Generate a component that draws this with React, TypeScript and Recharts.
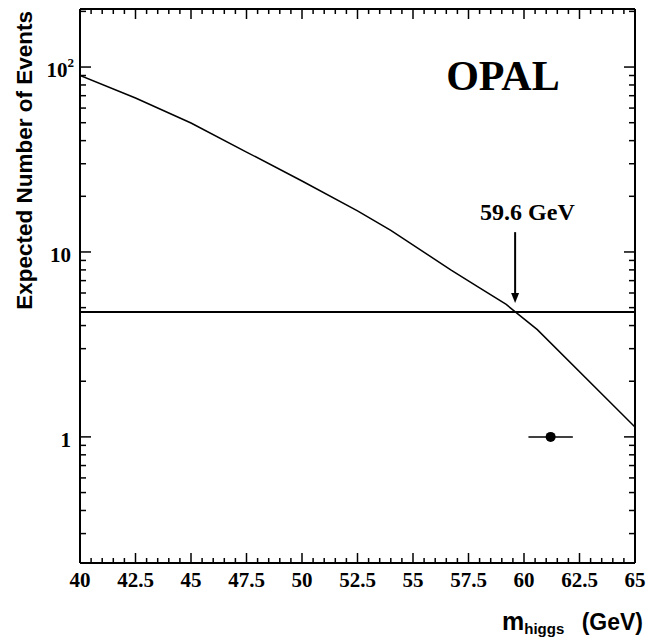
import {
  ComposedChart,
  ErrorBar,
  Label,
  Line,
  ReferenceDot,
  ReferenceLine,
  Scatter,
  XAxis,
  YAxis,
} from "recharts"

// Expected signal events vs. Higgs mass, with the 95% CL line and the observed candidate.
const MASS = [40, 42.5, 45, 47.5, 50, 52.5, 54, 56.7, 58, 59.2, 60.6, 65]
const EXPECTED = [90, 68, 49.8, 34.7, 24.2, 16.7, 13.1, 8.0, 6.4, 5.2, 3.8, 1.13]

const LIMIT_EVENTS = 4.74
const LIMIT_MASS = 59.6
const LIMIT_LABEL = "59.6 GeV"
const ARROW_TOP = 12.8
const ARROW_TIP = 5.3

const OBS_MASS = [61.2]
const OBS_EVENTS = [1]
const OBS_MASS_ERR = [1.0]

const OPAL_POS = { x: 59.05, y: 75 }

const X_MIN = 40
const X_MAX = 65
const X_MAJOR = [40, 42.5, 45, 47.5, 50, 52.5, 55, 57.5, 60, 62.5, 65]
const X_LABELS = ["40", "42.5", "45", "47.5", "50", "52.5", "55", "57.5", "60", "62.5", "65"]
const Y_MAJOR = [1, 10, 100]
const Y_LABELS = ["1", "10", "10^2"]
const Y_MINOR = [0.3, 0.4, 0.5, 0.6, 0.7, 0.8, 0.9, 2, 3, 4, 5, 6, 7, 8, 9, 20, 30, 40, 50, 60, 70, 80, 90, 200]

// minor x ticks every 0.5 between the labelled ones
const X_TICKS: number[] = []
for (let i = 0; i < X_MAJOR.length; i++) {
  X_TICKS.push(X_MAJOR[i])
  if (i < X_MAJOR.length - 1) {
    for (let k = 1; k < 5; k++) X_TICKS.push(X_MAJOR[i] + k * 0.5)
  }
}
const Y_TICKS = [...Y_MINOR, ...Y_MAJOR].sort((a, b) => a - b)

const curve = MASS.map((m, i) => ({ x: m, y: EXPECTED[i] }))
const observed = OBS_MASS.map((m, i) => ({ x: m, y: OBS_EVENTS[i], ex: OBS_MASS_ERR[i] }))

const W = 650
const H = 638
const PLOT_W = 555 // frame width in px, used to turn tick lengths into mass units
const SERIF = "Liberation Serif"
const SANS = "Liberation Sans"
const Y_DOMAIN = [0.208, 206]

const isMajorX = (v: number) => X_MAJOR.some((m) => Math.abs(m - v) < 1e-6)
const isMajorY = (v: number) => Y_MAJOR.some((m) => Math.abs(m - v) < 1e-9)
const tickDx = (px: number) => ((X_MAX - X_MIN) * px) / PLOT_W

function BottomTick(props: any) {
  const { x, y, payload } = props
  const v = payload.value as number
  const major = isMajorX(v)
  const idx = X_MAJOR.findIndex((m) => Math.abs(m - v) < 1e-6)
  return (
    <g>
      <line x1={x} x2={x} y1={y} y2={y - (major ? 10 : 5)} stroke="#000" strokeWidth={1.5} />
      {major && (
        <text x={x} y={y + 24} textAnchor="middle" fontFamily={SERIF} fontWeight="bold" fontSize={21} fill="#000">
          {X_LABELS[idx]}
        </text>
      )}
    </g>
  )
}

function TopTick(props: any) {
  const { x, y, payload } = props
  const major = isMajorX(payload.value)
  return <line x1={x} x2={x} y1={y} y2={y + (major ? 10 : 5)} stroke="#000" strokeWidth={1.5} />
}

function LeftLabel(props: any) {
  const x = Number(props.x)
  const y = Number(props.y)
  const idx = Y_MAJOR.findIndex((m) => Math.abs(m - props.payload.value) < 1e-9)
  if (idx < 0) return <g />
  const [base, exp] = Y_LABELS[idx].split("^")
  return (
    <text
      x={exp ? x - 6 : x - 9}
      y={y + 10}
      textAnchor="end"
      fontFamily={SERIF}
      fontWeight="bold"
      fontSize={21}
      fill="#000"
    >
      {base}
      {exp && (
        <tspan fontSize={13} dy={-10}>
          {exp}
        </tspan>
      )}
    </text>
  )
}

function RightTick(props: any) {
  const x = Number(props.x)
  const y = Number(props.y)
  const len = isMajorY(props.payload.value) ? 11 : 6
  return <line x1={x} x2={x - len} y1={y} y2={y} stroke="#000" strokeWidth={1.5} />
}

// vertical arrow from the mass label down to the limit line
function LimitArrow({ x1, y1, x2, y2 }: any) {
  return (
    <g>
      <line x1={x1} y1={y1} x2={x2} y2={y2 - 9} stroke="#000" strokeWidth={2} />
      <polygon points={`${x2 - 4},${y2 - 10} ${x2 + 4},${y2 - 10} ${x2},${y2}`} fill="#000" />
      <text x={x1 - 35} y={y1 - 12} fontFamily={SERIF} fontWeight="bold" fontSize={24} fill="#000">
        {LIMIT_LABEL}
      </text>
    </g>
  )
}

export default function App() {
  return (
    <div style={{ width: W, height: H, background: "#fff" }}>
      <style>{"body{margin:0}"}</style>
      {/* top/right axes are 1px thick so they still render; they only carry mirrored ticks */}
      <ComposedChart width={W} height={H} margin={{ top: 8, right: 14, bottom: 0, left: 0 }}>
        <XAxis
          xAxisId={0}
          dataKey="x"
          type="number"
          domain={[X_MIN, X_MAX]}
          allowDataOverflow
          ticks={X_TICKS}
          interval={0}
          tickSize={0}
          tickMargin={0}
          tickLine={false}
          tick={<BottomTick />}
          height={75}
          axisLine={{ stroke: "#000", strokeWidth: 2 }}
        >
          <Label
            content={() => (
              <g fontFamily={SANS} fontWeight="bold" fill="#000">
                <text x={502} y={630} fontSize={25}>
                  m
                  <tspan fontSize={15} dy={4}>
                    higgs
                  </tspan>
                </text>
                <text x={643} y={630} fontSize={23} textAnchor="end">
                  (GeV)
                </text>
              </g>
            )}
          />
        </XAxis>
        <XAxis
          xAxisId="top"
          orientation="top"
          dataKey="x"
          type="number"
          domain={[X_MIN, X_MAX]}
          allowDataOverflow
          ticks={X_TICKS}
          interval={0}
          tickSize={0}
          tickMargin={0}
          tickLine={false}
          tick={<TopTick />}
          height={1}
          axisLine={{ stroke: "#000", strokeWidth: 2 }}
        />
        <YAxis
          yAxisId={0}
          type="number"
          scale="log"
          domain={Y_DOMAIN}
          allowDataOverflow
          ticks={Y_TICKS}
          interval={0}
          tickSize={0}
          tickMargin={0}
          tickLine={false}
          tick={<LeftLabel />}
          width={80}
          axisLine={{ stroke: "#000", strokeWidth: 2 }}
        >
          <Label
            content={() => (
              <text
                x={32}
                y={11}
                transform="rotate(-90 32 11)"
                textAnchor="end"
                fontFamily={SANS}
                fontWeight="bold"
                fontSize={22.5}
                fill="#000"
              >
                Expected Number of Events
              </text>
            )}
          />
        </YAxis>
        <YAxis
          yAxisId="right"
          orientation="right"
          type="number"
          scale="log"
          domain={Y_DOMAIN}
          allowDataOverflow
          ticks={Y_TICKS}
          interval={0}
          tickSize={0}
          tickMargin={0}
          tickLine={false}
          tick={<RightTick />}
          width={1}
          axisLine={{ stroke: "#000", strokeWidth: 2 }}
        />

        {/* inward ticks on the left edge of the frame */}
        {Y_TICKS.map((v) => (
          <ReferenceLine
            key={`lt-${v}`}
            segment={[
              { x: X_MIN, y: v },
              { x: X_MIN + tickDx(isMajorY(v) ? 11 : 6), y: v },
            ]}
            stroke="#000"
            strokeWidth={1.5}
            ifOverflow="visible"
          />
        ))}

        <ReferenceLine y={LIMIT_EVENTS} stroke="#000" strokeWidth={2} />
        <ReferenceLine
          segment={[
            { x: LIMIT_MASS, y: ARROW_TOP },
            { x: LIMIT_MASS, y: ARROW_TIP },
          ]}
          shape={(p: any) => <LimitArrow {...p} />}
        />
        <ReferenceDot
          x={OPAL_POS.x}
          y={OPAL_POS.y}
          r={0}
          shape={(p: any) => (
            <text x={p.cx} y={p.cy} textAnchor="middle" fontFamily={SERIF} fontWeight="bold" fontSize={42} fill="#000">
              OPAL
            </text>
          )}
        />

        <Line
          data={curve}
          dataKey="y"
          type="linear"
          stroke="#000"
          strokeWidth={1.5}
          dot={false}
          activeDot={false}
          isAnimationActive={false}
        />
        <Scatter
          data={observed}
          dataKey="y"
          fill="#000"
          isAnimationActive={false}
          shape={(p: any) => <circle cx={p.cx} cy={p.cy} r={5} fill="#000" />}
        >
          <ErrorBar dataKey="ex" direction="x" width={0} stroke="#000" strokeWidth={1.5} isAnimationActive={false} />
        </Scatter>
      </ComposedChart>
    </div>
  )
}
